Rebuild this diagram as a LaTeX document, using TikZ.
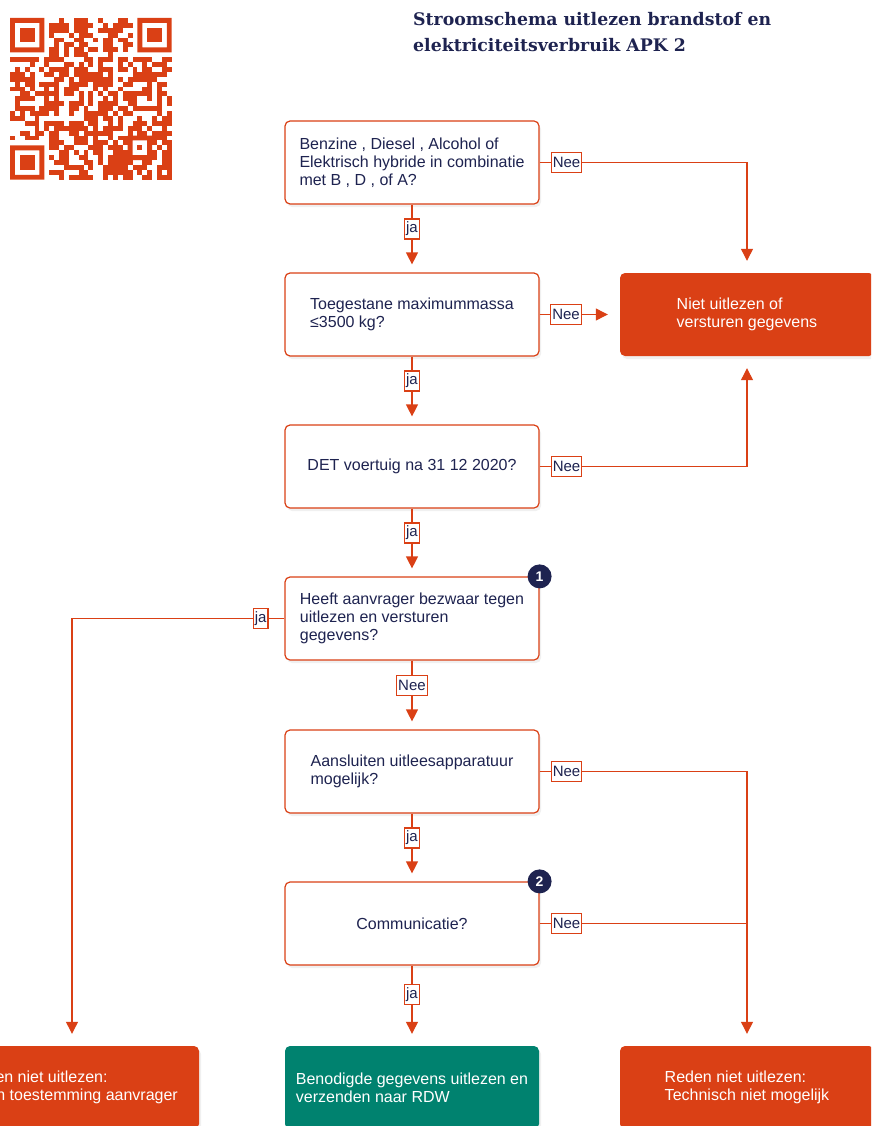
\documentclass[tikz,border=0pt]{standalone}
\usepackage{fontspec}
\setmainfont{Liberation Sans}
\newfontfamily\titelfont{DejaVu Serif}
\usetikzlibrary{calc,arrows.meta,shadows}
\definecolor{brand}{HTML}{DA4015}
\definecolor{navy}{HTML}{1E2350}
\definecolor{groen}{HTML}{00826F}
\tikzset{
  vraag/.style={draw=brand, line width=1.2pt, fill=white, rounded corners=5pt,
    minimum width=254pt, minimum height=83pt, text=navy, align=left,
    font=\fontsize{16}{18}\selectfont,
    drop shadow={opacity=0.12, shadow xshift=2pt, shadow yshift=-3pt}},
  uitkomst/.style={fill=brand, rounded corners=5pt, minimum width=254pt,
    minimum height=83pt, text=white, align=left,
    font=\fontsize{16}{18}\selectfont,
    drop shadow={opacity=0.12, shadow xshift=2pt, shadow yshift=-3pt}},
  lijn/.style={draw=brand, line width=1.2pt},
  pijl/.style={lijn, -{Triangle[length=12pt,width=12pt]}},
  keuze/.style={draw=brand, line width=1.2pt, fill=white, text=navy,
    inner xsep=1.5pt, inner ysep=2.5pt, minimum height=20pt,
    font=\fontsize{15}{15}\selectfont},
  nummer/.style={circle, fill=navy, text=white, minimum size=24pt, inner sep=0pt,
    font=\bfseries\fontsize{14}{14}\selectfont},
}

\begin{document}
\begin{tikzpicture}[x=1pt, y=-1pt]
  \useasboundingbox (0,0) rectangle (871,1126);
  \clip (0,0) rectangle (871,1126);

  % qr code
  \pgfmathsetmacro{\m}{4.9}
  \pgfmathsetseed{11}
  \foreach \i in {0,...,32}{
    \foreach \j in {0,...,32}{
      \pgfmathtruncatemacro{\vrij}{((\i<8 && \j<8) || (\i>24 && \j<8) || (\i<8 && \j>24) || (\i>23 && \i<29 && \j>23 && \j<29)) ? 0 : 1}
      \pgfmathtruncatemacro{\zet}{\vrij*(rnd<0.55)}
      \ifnum\zet=1
        \fill[brand] ({10+\i*\m},{18+\j*\m}) rectangle ++(\m,\m);
      \fi
    }
  }
  \foreach \fx/\fy in {0/0,26/0,0/26}{
    \fill[brand, even odd rule] ({10+\fx*\m},{18+\fy*\m}) rectangle ++({7*\m},{7*\m})
      ({10+(\fx+1)*\m},{18+(\fy+1)*\m}) rectangle ++({5*\m},{5*\m});
    \fill[brand] ({10+(\fx+2)*\m},{18+(\fy+2)*\m}) rectangle ++({3*\m},{3*\m});
  }
  \fill[brand, even odd rule] ({10+24*\m},{18+24*\m}) rectangle ++({5*\m},{5*\m})
    ({10+25*\m},{18+25*\m}) rectangle ++({3*\m},{3*\m});
  \fill[brand] ({10+26*\m},{18+26*\m}) rectangle ++(\m,\m);

  % titel
  \node[anchor=north west, text=navy, align=left, inner sep=0pt,
    font=\titelfont\bfseries\fontsize{17.3}{26}\selectfont] (titel) at (413,12)
    {Stroomschema uitlezen brandstof en\\elektriciteitsverbruik APK 2};

  % vragen
  \node[vraag] (v1) at (412,162.5) {Benzine , Diesel , Alcohol of\\Elektrisch hybride in combinatie\\met B , D , of A?};
  \node[vraag] (v2) at (412,314.5) {Toegestane maximummassa\\≤3500 kg?};
  \node[vraag] (v3) at (412,466.5) {DET voertuig na 31 12 2020?};
  \node[vraag] (v4) at (412,618.5) {Heeft aanvrager bezwaar tegen\\uitlezen en versturen\\gegevens?};
  \node[vraag] (v5) at (412,771.5) {Aansluiten uitleesapparatuur\\mogelijk?};
  \node[vraag] (v6) at (412,923.5) {Communicatie?};

  \node[nummer] (n1) at (v4.north east) {1};
  \node[nummer] (n2) at (v6.north east) {2};

  % uitkomsten
  \node[uitkomst] (stop) at (747,314.5) {Niet uitlezen of\\versturen gegevens};
  \node[uitkomst] (b1) at (72,1087.5) {Reden niet uitlezen:\\Geen toestemming aanvrager};
  \node[uitkomst, fill=groen] (b2) at (412,1087.5) {Benodigde gegevens uitlezen en\\verzenden naar RDW};
  \node[uitkomst] (b3) at (747,1087.5) {Reden niet uitlezen:\\Technisch niet mogelijk};

  % pijlen omlaag
  \draw[pijl, shorten >=8pt] (v1) -- node[keuze, pos=0.36] {ja} (v2);
  \draw[pijl, shorten >=8pt] (v2) -- node[keuze, pos=0.36] {ja} (v3);
  \draw[pijl, shorten >=8pt] (v3) -- node[keuze, pos=0.36] {ja} (v4);
  \draw[pijl, shorten >=8pt] (v4) -- node[keuze, pos=0.36] {Nee} (v5);
  \draw[pijl, shorten >=8pt] (v5) -- node[keuze, pos=0.36] {ja} (v6);
  \draw[pijl, shorten >=12pt] (v6) -- node[keuze, pos=0.36] {ja} (b2);

  % zijtakken
  \draw[pijl, shorten >=12pt] (v1.east) -| node[keuze, pos=0.065] {Nee} (stop.north);
  \draw[pijl, shorten >=12pt] (v2.east) -- node[keuze, pos=0.33] {Nee} (stop.west);
  \draw[pijl, shorten >=12pt] (v3.east) -| node[keuze, pos=0.065] {Nee} (stop.south);
  \draw[pijl, shorten >=12pt] (v4.west) -| node[keuze, pos=0.056] {ja} (b1.north);
  \draw[pijl, shorten >=12pt] (v5.east) -| node[keuze, pos=0.065] {Nee} (b3.north);
  \draw[lijn] (v6.east) -- node[keuze, pos=0.13] {Nee} (v6.east -| b3.north);
\end{tikzpicture}
\end{document}
